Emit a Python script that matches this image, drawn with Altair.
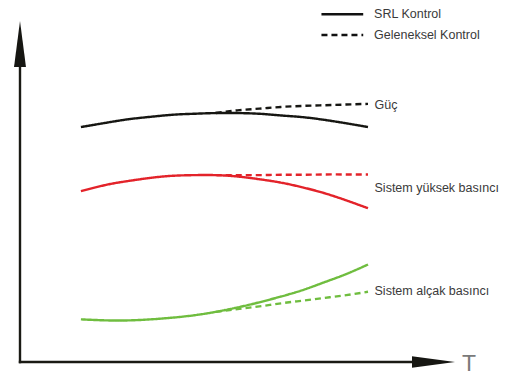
import altair as alt
import pandas as pd

# ---- data ----
t_solid = [1.4, 2, 2.5, 3, 3.5, 4, 4.5, 5, 5.5, 6, 6.5, 7, 7.5, 8]
t_dash = [4.5, 5, 5.5, 6, 6.5, 7, 7.5, 8]

guc_srl = [6.89, 7.02, 7.12, 7.19, 7.25, 7.28, 7.30, 7.30, 7.28, 7.23, 7.18, 7.10, 7.00, 6.89]
guc_gel = [7.30, 7.38, 7.43, 7.48, 7.51, 7.53, 7.55, 7.57]
yuksek_srl = [5.01, 5.20, 5.31, 5.40, 5.46, 5.48, 5.48, 5.44, 5.36, 5.26, 5.12, 4.95, 4.74, 4.51]
yuksek_gel = [5.48, 5.48, 5.48, 5.49, 5.49, 5.50, 5.50, 5.50]
alcak_srl = [1.25, 1.22, 1.22, 1.25, 1.30, 1.37, 1.47, 1.60, 1.75, 1.92, 2.11, 2.34, 2.58, 2.86]
alcak_gel = [1.47, 1.55, 1.63, 1.72, 1.80, 1.88, 1.96, 2.06]

series_names = ["Güç", "Sistem yüksek basıncı", "Sistem alçak basıncı"]
series_colors = ["#161612", "#e3232a", "#6fbd3f"]
label_v = [7.54, 5.10, 2.07]
label_t = 8.15

kontrol_names = ["SRL Kontrol", "Geleneksel Kontrol"]
legend_v = [10.20, 9.59]
legend_t = [6.93, 7.89, 8.14]

axis_label = "T"

# ---- build tables ----
rows = []
for name, srl, gel in zip(series_names,
                          [guc_srl, yuksek_srl, alcak_srl],
                          [guc_gel, yuksek_gel, alcak_gel]):
    for t, v in zip(t_solid, srl):
        rows.append({"T": t, "V": v, "seri": name, "kontrol": kontrol_names[0],
                     "key": name + "|" + kontrol_names[0]})
    for t, v in zip(t_dash, gel):
        rows.append({"T": t, "V": v, "seri": name, "kontrol": kontrol_names[1],
                     "key": name + "|" + kontrol_names[1]})
curves = pd.DataFrame(rows)

xs = alt.Scale(domain=[0, 10], nice=False, zero=False)
ys = alt.Scale(domain=[0, 10], nice=False, zero=False)
color_scale = alt.Scale(domain=series_names, range=series_colors)
dash_scale = alt.Scale(domain=kontrol_names, range=[[1, 0], [6, 4]])

lines = alt.Chart(curves).mark_line(strokeWidth=2.4, interpolate="natural",
                                    strokeCap="butt").encode(
    x=alt.X("T:Q", scale=xs, axis=None),
    y=alt.Y("V:Q", scale=ys, axis=None),
    color=alt.Color("seri:N", scale=color_scale, legend=None),
    strokeDash=alt.StrokeDash("kontrol:N", scale=dash_scale, legend=None),
    detail="key:N",
)

labels_df = pd.DataFrame({"T": [label_t] * 3, "V": label_v, "text": series_names})
labels = alt.Chart(labels_df).mark_text(
    align="left", baseline="middle", font="Liberation Sans", fontSize=12.5, color="#3a3a3a"
).encode(x=alt.X("T:Q", scale=xs), y=alt.Y("V:Q", scale=ys), text="text:N")

# axes
axes_df = pd.DataFrame({"T": [0, 0], "V": [0, 0], "T2": [0, 9.5], "V2": [9.2, 0]})
axes = alt.Chart(axes_df).mark_rule(strokeWidth=2.4, color="#1a1a14", strokeCap="square").encode(
    x=alt.X("T:Q", scale=xs), y=alt.Y("V:Q", scale=ys), x2="T2:Q", y2="V2:Q"
)
up_df = pd.DataFrame({"T": [0], "V": [10]})
up_arrow = alt.Chart(up_df).mark_point(
    shape="M0,0L0.26,2L-0.26,2Z", filled=True, size=2116, opacity=1, color="#161612", strokeWidth=0
).encode(x=alt.X("T:Q", scale=xs), y=alt.Y("V:Q", scale=ys))
right_df = pd.DataFrame({"T": [10], "V": [0]})
right_arrow = alt.Chart(right_df).mark_point(
    shape="M0,0L-2,-0.27L-2,0.27Z", filled=True, size=1849, opacity=1, color="#161612", strokeWidth=0
).encode(x=alt.X("T:Q", scale=xs), y=alt.Y("V:Q", scale=ys))

t_df = pd.DataFrame({"T": [10.32], "V": [0.23], "text": [axis_label]})
t_label = alt.Chart(t_df).mark_text(
    align="center", baseline="top", font="Liberation Sans", fontSize=23, color="#7a7a7a"
).encode(x=alt.X("T:Q", scale=xs), y=alt.Y("V:Q", scale=ys), text="text:N")

# legend
leg_df = pd.DataFrame({"T": [legend_t[0]] * 2, "T2": [legend_t[1]] * 2, "V": legend_v,
                       "kontrol": kontrol_names})
leg_lines = alt.Chart(leg_df).mark_rule(strokeWidth=2.6, color="#111111").encode(
    x=alt.X("T:Q", scale=xs), x2="T2:Q", y=alt.Y("V:Q", scale=ys),
    strokeDash=alt.StrokeDash("kontrol:N", scale=dash_scale, legend=None),
)
leg_text_df = pd.DataFrame({"T": [legend_t[2]] * 2, "V": legend_v, "text": kontrol_names})
leg_text = alt.Chart(leg_text_df).mark_text(
    align="left", baseline="middle", font="Liberation Sans", fontSize=12.5, color="#3a3a3a"
).encode(x=alt.X("T:Q", scale=xs), y=alt.Y("V:Q", scale=ys), text="text:N")

chart = alt.layer(lines, axes, up_arrow, right_arrow, labels, t_label, leg_lines, leg_text).properties(
    width=435, height=341,
    padding={"left": 12, "top": 13, "right": 55, "bottom": 9},
    autosize=alt.AutoSizeParams(type="none"),
    background="white",
).configure_view(stroke=None)

chart.save("out.html", embed_options={"renderer": "svg", "actions": False})
